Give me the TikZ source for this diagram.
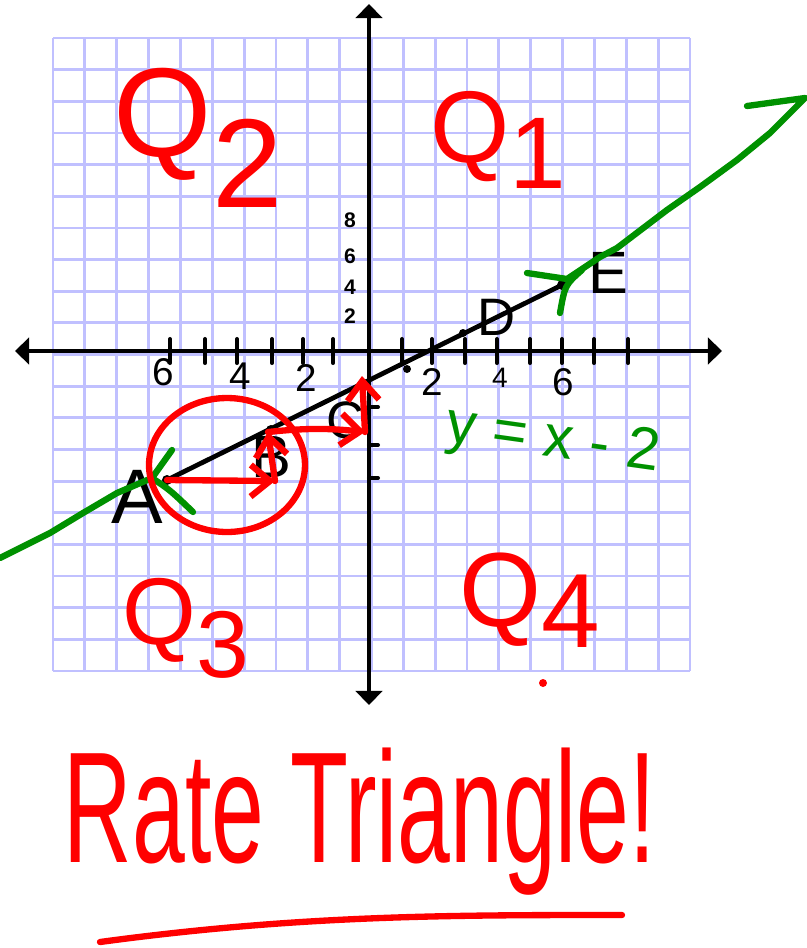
\documentclass[tikz,border=0pt]{standalone}
\usepackage{fontspec}
\setmainfont{Liberation Sans}
\usepackage{tikz}
\usetikzlibrary{arrows.meta,positioning}
\definecolor{gridblue}{RGB}{192,192,255}
\definecolor{penred}{RGB}{255,0,0}
\definecolor{pengreen}{RGB}{0,145,0}

\begin{document}
\begin{tikzpicture}[x=0.02cm, y=-0.02cm,
    gridline/.style={draw=gridblue, line width=1.6pt},
    axis/.style={line width=2.8pt, {Triangle[length=8pt,width=15pt]}-{Triangle[length=8pt,width=15pt]}},
    tickmark/.style={line width=2.3pt, line cap=round},
    pen/.style={line width=3.6pt, line cap=round, line join=round},
    redpen/.style={pen, draw=penred},
    greenpen/.style={pen, draw=pengreen},
    redarr/.style={redpen, -{Straight Barb[length=11pt,width=18pt]}},
    digit/.style={inner sep=0pt, font=\fontsize{22}{22}\selectfont},
    smalldigit/.style={inner sep=0pt, font=\bfseries\fontsize{12}{12}\selectfont},
    ptlabel/.style={inner sep=0pt, font=\fontsize{#1}{#1}\selectfont},
    quad/.style={inner sep=0pt, text=penred, font=\fontsize{#1}{#1}\selectfont}
]
\useasboundingbox (0,0) rectangle (807,948);

% graph paper
\foreach \i in {0,...,20} {
  \draw[gridline] ({53+\i*31.85},38) -- ({53+\i*31.85},671);
  \draw[gridline] (53,{38+\i*31.65}) -- (690,{38+\i*31.65});
}

% axes and ticks
\draw[axis] (15,351) -- (722,351);
\draw[axis] (369,4) -- (369,705);
\foreach \tx in {170,205,237,272,303,333,402,432,465,497,530,562,594,628}
  \draw[tickmark] (\tx,339) -- (\tx,363);
\foreach \ty in {407,445,478}
  \draw[tickmark] (369,\ty) -- (378,\ty);

\node[digit] (xsix) at (163,372) {6};
\node[digit] (xfour) at (240,376) {4};
\node[digit] (xtwo) at (306,378) {2};
\node[digit] (xtwor) at (432,382) {2};
\node[digit, font=\fontsize{16}{16}\selectfont] (xfourr) at (500,378) {4};
\node[digit] (xsixr) at (563,382) {6};
\node[smalldigit] (yeight) at (350,220) {8};
\node[smalldigit] (ysix) at (350,256) {6};
\node[smalldigit] (yfour) at (350,287) {4};
\node[smalldigit] (ytwo) at (350,316) {2};

% the line and its points
\coordinate (ptA) at (167,480);
\coordinate (ptE) at (562,285);
\draw[line width=2.7pt, line cap=round] (ptA) -- (ptE);
\fill (ptA) circle [radius=5];
\fill (ptE) circle [radius=5];
\fill (271,430) circle [radius=5];
\fill (407,369) circle [radius=4];
\fill (463,333) circle [radius=4];

\node[ptlabel=44] (lblA) at (137,497) {A};
\node[ptlabel=34] (lblB) at (271,457) {B};
\node[ptlabel=30] (lblC) at (346,420) {C};
\node[ptlabel=30] (lblD) at (497,317) {D};
\node[ptlabel=34] (lblE) at (608,273) {E};

% green line y = x - 2
\draw[greenpen] (0,558) -- (20,548) -- (50,533) -- (83,513) -- (117,493) -- (152,478);
\draw[greenpen] (172,450) -- (152,478) .. controls (170,490) .. (193,512);
\draw[greenpen] (527,273) -- (567,279) -- (600,257) -- (617,248) -- (667,210)
  -- (700,187) -- (737,160) -- (770,133) -- (805,98) -- (747,106);
\draw[greenpen] (582,270) .. controls (565,285) .. (560,313);
\node[inner sep=0pt, text=pengreen, rotate=-8, font=\fontsize{34}{34}\selectfont]
  (eqn) at (553,442) {y = x - 2};

% rate triangle steps
\coordinate (rB) at (275,481);
\coordinate (rBtop) at (268,432);
\coordinate (rC) at (365,432);
\coordinate (rCtop) at (362,376);
\draw[redpen] (227,465) ellipse [x radius=1.56cm, y radius=1.34cm];
\draw[redarr] (ptA) -- (rB);
\draw[redarr] (rB) -- (rBtop);
\draw[redarr] (rBtop) to[bend left=6] (rC);
\draw[redarr] (rC) -- (rCtop);

% quadrants
\node[quad=72] (qtwo) at (198,138) {Q\raisebox{-0.4em}{2}};
\node[quad=58] (qone) at (498,140) {Q\raisebox{-0.25em}{1}};
\node[quad=54] (qthree) at (186,628) {Q\raisebox{-0.35em}{3}};
\node[quad=60] (qfour) at (530,600) {Q\raisebox{-0.2em}{4}};
\fill[penred] (543,683) circle [radius=4];

% title
\node[inner sep=0pt, text=penred, anchor=base, font=\fontsize{90}{90}\selectfont]
  (title) at (360,862) {\scalebox{0.6}[1]{Rate Triangle!}};
\draw[redpen] (100,942) .. controls (300,915) and (450,915) .. (622,915);
\end{tikzpicture}
\end{document}
